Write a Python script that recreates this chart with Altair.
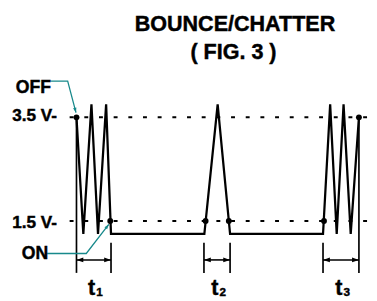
import altair as alt
import pandas as pd

FONT = "Liberation Sans"
TEAL = "#17898b"

# ---- data (time in arbitrary units, voltage in volts) ----
wave_t = [0, 7, 15.3, 22, 30.3, 35.3, 130.7, 144.3, 157, 252, 259.3, 266, 273, 280.3, 288.7]
wave_v = [3.5, 1.25, 3.75, 1.25, 3.75, 1.25, 1.25, 3.75, 1.25, 1.25, 3.75, 1.25, 3.75, 1.25, 3.5]

dot_t = [0, 34.5, 132, 155.7, 253, 288.7]
dot_v = [3.5, 1.5, 1.5, 1.5, 1.5, 3.5]

level_v = [3.5, 1.5]
level_text = ["3.5 V-", "1.5 V-"]
level_text_v = [3.434, 1.358]
level_start, level_end = -7, 299

ext_t = [0, 35.3, 130.3, 157, 252, 288.7]
ext_top = [3.5, 1.08, 1.08, 1.08, 1.08, 3.5]
ext_bottom = 0.5

interval_sub = ["1", "2", "3"]
interval_start = [0, 130.3, 252]
interval_end = [35.3, 157, 288.7]
dim_v = 0.75
tlabel_v = 0.075
tsub_v = 0.057

state_text = ["OFF", "ON"]
state_t = [-62, -56]
state_v = [3.97, 0.774]

off_path_t = [-26, -9, -0.5]
off_path_v = [4.198, 4.198, 3.59]
on_path_t = [-30, 10, 33]
on_path_v = [0.874, 0.874, 1.434]
pointer_angle = [165, 38]

title_lines = ["BOUNCE/CHATTER", "( FIG. 3 )"]
title_t = [162, 160.5]
title_v = [5.17, 4.617]

# ---- scales ----
XDOM = [-70, 299]
YDOM = [0.019, 5.547]


def X(f):
    return alt.X(f"{f}:Q", scale=alt.Scale(domain=XDOM, nice=False, zero=False), axis=None)


def Y(f):
    return alt.Y(f"{f}:Q", scale=alt.Scale(domain=YDOM, nice=False, zero=False), axis=None)


wave = pd.DataFrame({"t": wave_t, "v": wave_v, "o": range(len(wave_t))})
dots = pd.DataFrame({"t": dot_t, "v": dot_v})
levels = pd.DataFrame({"v": level_v, "t0": [level_start] * 2, "t1": [level_end] * 2})
level_lab = pd.DataFrame({"txt": level_text, "v": level_text_v, "t": [-20, -20]})
ext = pd.DataFrame({"t": ext_t, "v0": ext_top, "v1": [ext_bottom] * len(ext_t)})
dims = pd.DataFrame({"t0": interval_start, "t1": interval_end, "v": [dim_v] * 3})
heads = pd.DataFrame({
    "t": interval_start + interval_end,
    "v": [dim_v] * 6,
    "ang": [270] * 3 + [90] * 3,
})
centers = [(a + b) / 2 for a, b in zip(interval_start, interval_end)]
tl = pd.DataFrame({"t": [c + 1.5 for c in centers], "v": [tlabel_v] * 3})
ts = pd.DataFrame({"t": [c + 2.5 for c in centers], "v": [tsub_v] * 3, "s": interval_sub})
states = pd.DataFrame({"txt": state_text, "t": state_t, "v": state_v})
ptr = pd.DataFrame({
    "t": off_path_t + on_path_t,
    "v": off_path_v + on_path_v,
    "g": ["off"] * 3 + ["on"] * 3,
    "o": list(range(3)) * 2,
})
ptr_heads = pd.DataFrame({"t": [off_path_t[-1], on_path_t[-1]],
                          "v": [off_path_v[-1], on_path_v[-1]],
                          "ang": pointer_angle})
titles = pd.DataFrame({"txt": title_lines, "t": title_t, "v": title_v})

ARROW = "M0,0L0.7,2L-0.7,2Z"
TXT = dict(font=FONT, fontWeight="bold", color="black", stroke="black",
           strokeWidth=0.45, baseline="alphabetic")

layers = [
    alt.Chart(levels).mark_rule(color="black", strokeWidth=2, strokeDash=[4, 11]).encode(
        x=X("t0"), x2="t1", y=Y("v")),
    alt.Chart(ext).mark_rule(color="black", strokeWidth=1.7).encode(
        x=X("t"), y=Y("v0"), y2="v1"),
    alt.Chart(dims).mark_rule(color="black", strokeWidth=1.6).encode(
        x=X("t0"), x2="t1", y=Y("v")),
    alt.Chart(heads).mark_point(shape=ARROW, filled=True, color="black", size=49, opacity=1).encode(
        x=X("t"), y=Y("v"), angle=alt.Angle("ang:Q", scale=None)),
    alt.Chart(wave).mark_line(color="black", strokeWidth=2.3, strokeJoin="miter").encode(
        x=X("t"), y=Y("v"), order="o:Q"),
    alt.Chart(dots).mark_point(shape="circle", filled=True, color="black", size=36, opacity=1).encode(
        x=X("t"), y=Y("v")),
    alt.Chart(ptr).mark_line(color=TEAL, strokeWidth=1.3).encode(
        x=X("t"), y=Y("v"), detail="g:N", order="o:Q"),
    alt.Chart(ptr_heads).mark_point(shape=ARROW, filled=True, color=TEAL, size=25, opacity=1).encode(
        x=X("t"), y=Y("v"), angle=alt.Angle("ang:Q", scale=None)),
    alt.Chart(level_lab).mark_text(fontSize=17.5, align="right", **TXT).encode(
        x=X("t"), y=Y("v"), text="txt:N"),
    alt.Chart(states).mark_text(fontSize=18, align="left", **TXT).encode(
        x=X("t"), y=Y("v"), text="txt:N"),
    alt.Chart(tl).mark_text(fontSize=22, align="right", text="t", **TXT).encode(
        x=X("t"), y=Y("v")),
    alt.Chart(ts).mark_text(fontSize=12, align="left", **TXT).encode(
        x=X("t"), y=Y("v"), text="s:N"),
    alt.Chart(titles).mark_text(fontSize=22, align="center", **TXT).encode(
        x=X("t"), y=Y("v"), text="txt:N"),
]

chart = alt.layer(*layers).properties(
    width=369, height=293,
    autosize=alt.AutoSizeParams(type="none"),
    padding=0,
    background="white",
).configure_view(stroke=None)

chart.save("out.html", embed_options={"renderer": "svg", "actions": False})
